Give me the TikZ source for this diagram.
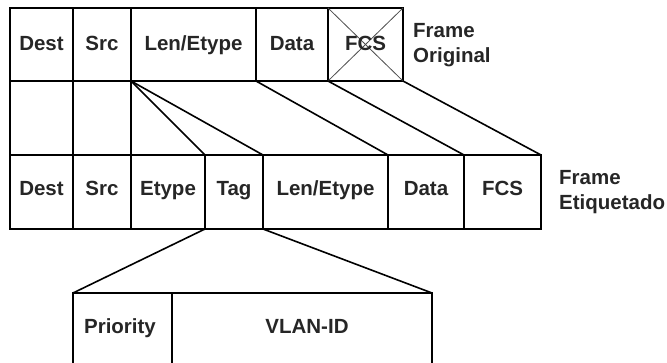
\documentclass[tikz,border=0pt]{standalone}
\usepackage{fontspec}
\setmainfont{Liberation Sans}
\begin{document}
\begin{tikzpicture}[x=1pt,y=-1pt,
  txt/.style={font=\fontsize{20.5}{25}\selectfont\bfseries, text=black!85},
  cell/.style={draw, line width=1.6pt, rectangle, inner sep=0pt, outer sep=0pt, anchor=north west},
  celltext/.style={txt, inner sep=0pt, text height=14.7pt, text depth=0pt},
  opencell/.style={rectangle, inner sep=0pt, outer sep=0pt, anchor=north west},
  conn/.style={line width=1.6pt, line cap=round},
  cross/.style={line width=0.8pt, black!70},
  lbl/.style={txt, anchor=north west, align=left, inner sep=0pt}]
\useasboundingbox (0,0) rectangle (667,363);
% top row (Frame Original)
\node[cell, minimum width=63pt, minimum height=73pt] (od) at (10,8) {};
\node[cell, minimum width=58pt, minimum height=73pt] (os) at (73,8) {};
\node[cell, minimum width=125pt, minimum height=73pt] (ol) at (131,8) {};
\node[cell, minimum width=72pt, minimum height=73pt] (oa) at (256,8) {};
\node[cell, minimum width=75pt, minimum height=73pt] (of) at (328,8) {};
\draw[cross] (of.north west) -- (of.south east);
\draw[cross] (of.north east) -- (of.south west);
\node[celltext] (odt) at ([yshift=1.5pt]od.center) {Dest};
\node[celltext] (ost) at ([yshift=1.5pt]os.center) {Src};
\node[celltext] (olt) at ([yshift=1.5pt]ol.center) {Len/Etype};
\node[celltext] (oat) at ([yshift=1.5pt]oa.center) {Data};
\node[celltext] (oft) at ([yshift=1.5pt]of.center) {FCS};
\node[lbl] (lo) at (413,23) {Frame\\Original};
% middle row (Frame Etiquetado)
\node[cell, minimum width=63pt, minimum height=74pt] (td) at (10,155) {};
\node[cell, minimum width=58pt, minimum height=74pt] (ts) at (73,155) {};
\node[cell, minimum width=74pt, minimum height=74pt] (te) at (131,155) {};
\node[cell, minimum width=58pt, minimum height=74pt] (tt) at (205,155) {};
\node[cell, minimum width=125pt, minimum height=74pt] (tl) at (263,155) {};
\node[cell, minimum width=76pt, minimum height=74pt] (ta) at (388,155) {};
\node[cell, minimum width=77pt, minimum height=74pt] (tf) at (464,155) {};
\node[celltext] (tdt) at ([yshift=3.5pt]td.center) {Dest};
\node[celltext] (tst) at ([yshift=3.5pt]ts.center) {Src};
\node[celltext] (tet) at ([yshift=3.5pt]te.center) {Etype};
\node[celltext] (ttt) at ([yshift=3.5pt]tt.center) {Tag};
\node[celltext] (tlt) at ([yshift=3.5pt]tl.center) {Len/Etype};
\node[celltext] (tat) at ([yshift=3.5pt]ta.center) {Data};
\node[celltext] (tft) at ([yshift=3.5pt]tf.center) {FCS};
\node[lbl] (le) at (559,170) {Frame\\Etiquetado};
% connectors between the frames
\draw[conn] (od.south west) -- (td.north west);
\draw[conn] (os.south west) -- (ts.north west);
\draw[conn] (ol.south west) -- (te.north west);
\draw[conn] (ol.south west) -- (te.north east);
\draw[conn] (ol.south west) -- (tt.north east);
\draw[conn] (oa.south west) -- (ta.north west);
\draw[conn] (of.south west) -- (tf.north west);
\draw[conn] (of.south east) -- (tf.north east);
% tag detail
\node[opencell, minimum width=99pt, minimum height=70pt] (pr) at (73,293) {};
\node[opencell, minimum width=260pt, minimum height=70pt] (vl) at (172,293) {};
\node[celltext] (prl) at (120,326) {Priority};
\node[celltext] (vll) at (307,326) {VLAN-ID};
\draw[conn] (pr.south west) -- (pr.north west) -- (vl.north east) -- (vl.south east);
\draw[conn] (vl.north west) -- (vl.south west);
\draw[conn] (tt.south west) -- (pr.north west);
\draw[conn] (tt.south east) -- (vl.north east);
\end{tikzpicture}
\end{document}
